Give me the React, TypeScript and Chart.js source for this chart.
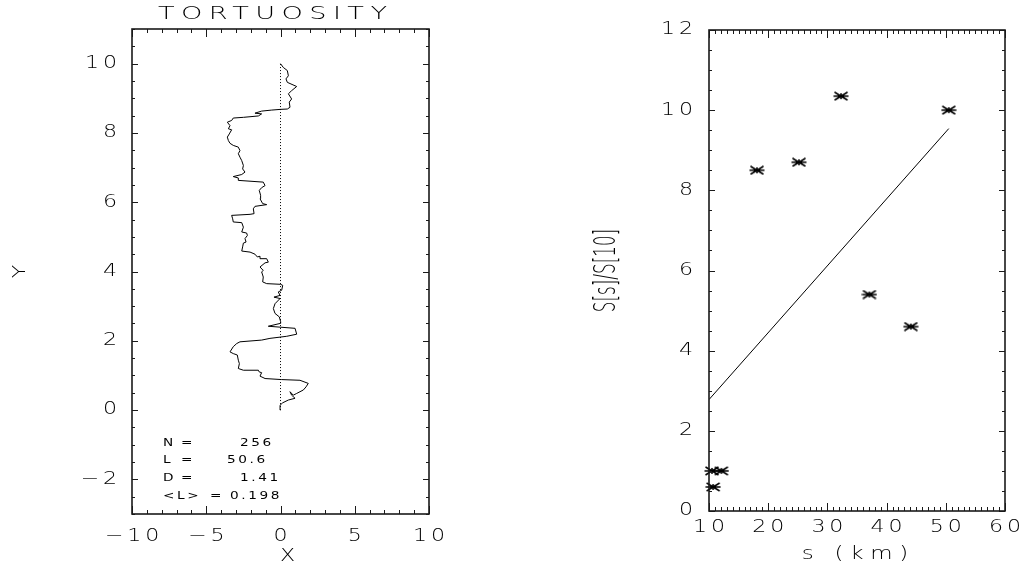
import React, { useEffect, useRef } from 'react';
import { Chart, registerables } from 'chart.js';

Chart.register(...registerables);

// Random-walk path from (0,0) up to (0,10)
const pathX = [
  0.0, -0.03, 0.15, 0.53, 0.98, 0.75, 0.64, 0.86, 1.09, 1.54, 1.72, 1.87, 1.31, 0.08, -1.04, -1.38,
  -1.27, -1.43, -1.49, -2.5, -2.84, -2.77, -2.84, -2.91, -3.18, -3.4, -3.18, -2.95, -2.73, -1.27,
  -0.71, 0.42, 1.09, 0.98, -0.82, -0.03, 0.01, -0.08, -0.37, -0.48, -0.37, -0.03, -0.44, -0.03,
  -0.15, 0.08, 0.15, 0.01, -0.93, -1.2, -1.16, -1.27, -1.16, -1.38, -1.04, -0.82, -0.93, -1.38,
  -1.38, -1.56, -1.72, -2.05, -2.61, -2.55, -2.5, -2.32, -2.39, -2.23, -2.28, -2.61, -2.5, -2.61,
  -3.18, -3.22, -3.29, -2.05, -1.78, -1.83, -1.72, -0.93, -1.2, -1.38, -1.34, -1.43, -1.27, -1.04,
  -1.16, -2.84, -2.84, -3.18, -2.61, -2.39, -2.55, -2.5, -2.61, -2.73, -2.84, -2.73, -2.84, -3.18,
  -3.4, -3.51, -3.58, -3.45, -3.29, -3.51, -3.4, -3.58, -3.29, -3.18, -2.5, -1.49, -1.27, -1.72,
  -1.27, -0.59, 0.01, 0.46, 0.64, 0.59, 0.75, 0.53, 0.75, 1.09, 0.46, 0.37, 0.53, 0.46, 0.19, 0.0,
];
const pathY = [
  0.0, 0.14, 0.21, 0.29, 0.34, 0.43, 0.53, 0.43, 0.48, 0.58, 0.67, 0.77, 0.86, 0.88, 0.91, 0.98,
  1.08, 1.1, 1.15, 1.15, 1.2, 1.34, 1.44, 1.59, 1.63, 1.68, 1.83, 1.92, 1.97, 2.02,
  2.07, 2.13, 2.19, 2.36, 2.42, 2.5, 2.55, 2.69, 2.79, 2.93, 3.07, 3.22, 3.26, 3.31,
  3.41, 3.46, 3.6, 3.63, 3.65, 3.7, 3.84, 3.99, 4.03, 4.13, 4.25, 4.27, 4.37, 4.37,
  4.44, 4.42, 4.5, 4.56, 4.59, 4.71, 4.82, 4.85, 4.95, 5.04, 5.11, 5.14, 5.28, 5.41,
  5.43, 5.52, 5.62, 5.65, 5.67, 5.81, 5.88, 5.93, 5.96, 6.1, 6.2, 6.34, 6.42, 6.48,
  6.58, 6.63, 6.7, 6.74, 6.8, 6.87, 6.96, 7.06, 7.2, 7.3, 7.4, 7.49, 7.59, 7.64,
  7.7, 7.78, 7.88, 7.97, 8.09, 8.12, 8.21, 8.31, 8.36, 8.43, 8.45, 8.49, 8.55, 8.57,
  8.63, 8.66, 8.68, 8.69, 8.74, 8.89, 8.98, 9.13, 9.22, 9.34, 9.46, 9.56, 9.65, 9.8, 9.89, 10.0,
];

// Straight chord between the end points of the walk
const chordX = [0, 0];
const chordY = [0, 10];

// Walk statistics printed inside the left panel
const walkN = 256;
const walkL = 50.6;
const walkD = 1.41;
const walkMeanStep = 0.198;

// Structure ratio against scale
const scaleKm = [10.5, 12.1, 10.7, 18.1, 25.2, 32.3, 37.1, 44.1, 50.5];
const ratioS = [1.0, 1.0, 0.6, 8.5, 8.7, 10.35, 5.4, 4.6, 10.0];
const fitKm = [10, 50.5];
const fitRatio = [2.78, 9.54];

// Labelled (major) tick values
const leftXLabels = [-10, -5, 0, 5, 10];
const leftYLabels = [-2, 0, 2, 4, 6, 8, 10];
const rightXLabels = [10, 20, 30, 40, 50, 60];
const rightYLabels = [0, 2, 4, 6, 8, 10, 12];

const FONT = "'DejaVu Sans', 'Liberation Sans', sans-serif";
const INK = '#1a1a1a';
const TEXT_INK = '#000';

const isIn = (list: number[], v: number) => list.some((m) => Math.abs(m - v) < 1e-6);
const fmt = (v: number) => (v < 0 ? '\u2212' + Math.abs(v) : String(v));

type TextOpts = {
  size: number;
  sx?: number;
  spacing?: number;
  rotate?: number;
  weight?: number;
  align?: 'left' | 'center' | 'right';
};

function drawLabel(ctx: CanvasRenderingContext2D, text: string, x: number, y: number, o: TextOpts) {
  const spacing = o.spacing ?? 0;
  const align = o.align ?? 'center';
  ctx.save();
  ctx.translate(x, y);
  if (o.rotate) ctx.rotate(o.rotate);
  ctx.scale(o.sx ?? 1, 1);
  ctx.font = `${o.weight ?? 200} ${o.size}px ${FONT}`;
  (ctx as any).letterSpacing = `${spacing}px`;
  ctx.textAlign = align;
  ctx.textBaseline = 'middle';
  ctx.fillStyle = TEXT_INK;
  const dx = align === 'center' ? spacing / 2 : align === 'right' ? spacing : 0;
  ctx.fillText(text, dx, 0);
  ctx.restore();
}

const TICK_TEXT: TextOpts = { size: 17, sx: 1.3, spacing: 3 };

// Boxed frame with inward major/minor ticks on all four sides, plus tick labels
const framePlugin = {
  id: 'frame',
  afterDraw(chart: any, _args: any, opts: any) {
    const { ctx, chartArea: a } = chart;
    const xs = chart.scales.x;
    const ys = chart.scales.y;
    ctx.save();
    ctx.strokeStyle = INK;
    ctx.lineWidth = 1;
    ctx.beginPath();
    for (const t of xs.ticks) {
      const px = Math.round(xs.getPixelForValue(t.value)) + 0.5;
      const len = isIn(opts.xMajor, t.value) ? opts.xLen[0] : opts.xLen[1];
      ctx.moveTo(px, a.bottom);
      ctx.lineTo(px, a.bottom - len);
      ctx.moveTo(px, a.top);
      ctx.lineTo(px, a.top + len);
    }
    for (const t of ys.ticks) {
      const py = Math.round(ys.getPixelForValue(t.value)) + 0.5;
      const len = isIn(opts.yMajor, t.value) ? opts.yLen[0] : opts.yLen[1];
      ctx.moveTo(a.left, py);
      ctx.lineTo(a.left + len, py);
      ctx.moveTo(a.right, py);
      ctx.lineTo(a.right - len, py);
    }
    ctx.stroke();
    ctx.lineWidth = 1.6;
    ctx.strokeRect(a.left, a.top, a.right - a.left, a.bottom - a.top);
    ctx.restore();

    for (const v of opts.xMajor) {
      drawLabel(ctx, fmt(v), xs.getPixelForValue(v), a.bottom + opts.xLabelGap, TICK_TEXT);
    }
    for (const v of opts.yMajor) {
      drawLabel(ctx, fmt(v), a.left - opts.yLabelGap, ys.getPixelForValue(v), {
        ...TICK_TEXT,
        align: 'right',
      });
    }
  },
};

function axisScale(min: number, max: number, step: number, fit: (s: any) => void) {
  return {
    type: 'linear' as const,
    min,
    max,
    grid: { display: false, drawTicks: false },
    border: { display: false },
    afterFit: fit,
    ticks: { stepSize: step, autoSkip: false, display: false },
  };
}

function makeAsterisk(): HTMLCanvasElement {
  const c = document.createElement('canvas');
  c.width = 16;
  c.height = 10;
  const g = c.getContext('2d')!;
  g.strokeStyle = '#000';
  g.lineWidth = 1.5;
  g.beginPath();
  g.moveTo(0.5, 5);
  g.lineTo(15.5, 5);
  g.moveTo(1.5, 1);
  g.lineTo(14.5, 9);
  g.moveTo(1.5, 9);
  g.lineTo(14.5, 1);
  g.moveTo(8, 2);
  g.lineTo(8, 8);
  g.stroke();
  return c;
}

function TortuosityPanel() {
  const ref = useRef<HTMLCanvasElement>(null);
  useEffect(() => {
    const textPlugin = {
      id: 'walkText',
      afterDraw(chart: any) {
        const { ctx, chartArea: a } = chart;
        const cx = (a.left + a.right) / 2;
        drawLabel(ctx, 'TORTUOSITY', cx - 8, a.top - 14, { size: 17, sx: 1.6, spacing: 4 });
        drawLabel(ctx, 'X', cx + 7, 557, { size: 17, sx: 1.3 });
        drawLabel(ctx, 'Y', 21, (a.top + a.bottom) / 2, { size: 17, sx: 1.3, rotate: -Math.PI / 2 });
        const rows: [string, string, number, number][] = [
          ['N', String(walkN), 49, 108],
          ['L', walkL.toFixed(1), 49, 95],
          ['D', walkD.toFixed(2), 49, 108],
          ['<L>', walkMeanStep.toFixed(3), 78, 98],
        ];
        const rowY = [-71, -53.5, -35.5, -17.5];
        rows.forEach(([name, val, eqX, valX], i) => {
          const y = a.bottom + rowY[i];
          const o: TextOpts = { size: 10.5, sx: 1.3, spacing: 2, weight: 400, align: 'left' };
          drawLabel(ctx, name, a.left + 31, y, o);
          drawLabel(ctx, '=', a.left + eqX, y, o);
          drawLabel(ctx, val, a.left + valX, y, o);
        });
      },
    };
    const chart = new Chart(ref.current!, {
      type: 'scatter',
      data: {
        datasets: [
          {
            data: chordX.map((x, i) => ({ x, y: chordY[i] })),
            showLine: true,
            borderColor: '#000',
            borderWidth: 1,
            borderDash: [1, 2],
            pointRadius: 0,
          },
          {
            data: pathX.map((x, i) => ({ x, y: pathY[i] })),
            showLine: true,
            borderColor: '#000',
            borderWidth: 1,
            pointRadius: 0,
            tension: 0,
          },
        ],
      },
      options: {
        responsive: false,
        animation: false,
        events: [],
        layout: { padding: { top: 29, right: 85, left: 0, bottom: 0 } },
        scales: {
          x: axisScale(-10, 10, 1, (s: any) => { s.height = 53; }),
          y: axisScale(-3, 11, 0.5, (s: any) => { s.width = 132; }),
        },
        plugins: {
          legend: { display: false },
          tooltip: { enabled: false },
          frame: {
            xMajor: leftXLabels,
            yMajor: leftYLabels,
            xLen: [8, 4],
            yLen: [6, 3],
            xLabelGap: 23,
            yLabelGap: 15,
          },
        } as any,
      },
      plugins: [framePlugin, textPlugin],
    });
    return () => chart.destroy();
  }, []);
  return (
    <canvas
      ref={ref}
      width={514}
      height={567}
      style={{ position: 'absolute', left: 0, top: 0, width: 514, height: 567 }}
    />
  );
}

function RatioPanel() {
  const ref = useRef<HTMLCanvasElement>(null);
  useEffect(() => {
    const textPlugin = {
      id: 'ratioText',
      afterDraw(chart: any) {
        const { ctx, chartArea: a } = chart;
        const cx = (a.left + a.right) / 2;
        drawLabel(ctx, 's (km)', cx - 2, 555, { size: 17, sx: 1.35, spacing: 5 });
        drawLabel(ctx, 'S[s]/S[10]', 93, (a.top + a.bottom) / 2, {
          size: 30,
          sx: 0.56,
          rotate: -Math.PI / 2,
        });
      },
    };
    const star = makeAsterisk();
    const chart = new Chart(ref.current!, {
      type: 'scatter',
      data: {
        datasets: [
          {
            data: scaleKm.map((x, i) => ({ x, y: ratioS[i] })),
            pointStyle: star as any,
            pointRadius: 7,
            clip: false as any,
          },
          {
            data: fitKm.map((x, i) => ({ x, y: fitRatio[i] })),
            showLine: true,
            borderColor: '#000',
            borderWidth: 1,
            pointRadius: 0,
          },
        ],
      },
      options: {
        responsive: false,
        animation: false,
        events: [],
        layout: { padding: { top: 30, right: 24, left: 0, bottom: 0 } },
        scales: {
          x: axisScale(10, 60, 1, (s: any) => { s.height = 56; }),
          y: axisScale(0, 12, 0.5, (s: any) => { s.width = 195; }),
        },
        plugins: {
          legend: { display: false },
          tooltip: { enabled: false },
          frame: {
            xMajor: rightXLabels,
            yMajor: rightYLabels,
            xLen: [8, 4],
            yLen: [6, 3],
            xLabelGap: 17,
            yLabelGap: 16,
          },
        } as any,
      },
      plugins: [framePlugin, textPlugin],
    });
    return () => chart.destroy();
  }, []);
  return (
    <canvas
      ref={ref}
      width={515}
      height={567}
      style={{ position: 'absolute', left: 514, top: 0, width: 515, height: 567 }}
    />
  );
}

export default function App() {
  return (
    <div style={{ position: 'absolute', left: 0, top: 0, width: 1029, height: 567 }}>
      <TortuosityPanel />
      <RatioPanel />
    </div>
  );
}
